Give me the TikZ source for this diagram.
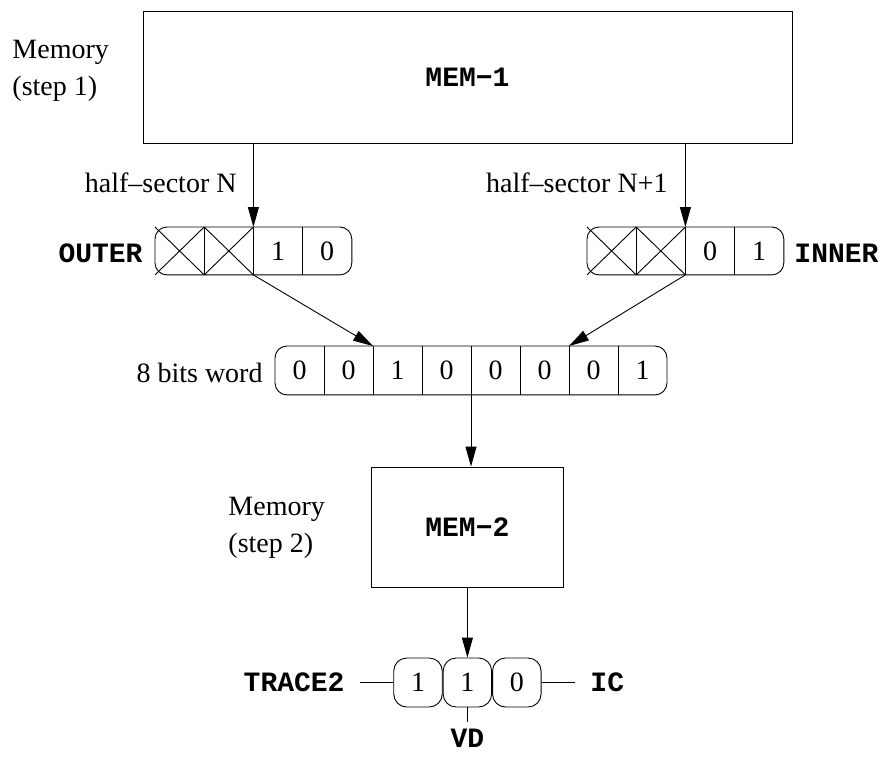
\documentclass[tikz,border=0pt]{standalone}
\usepackage{fontspec}
\setmainfont{Liberation Serif}
\newfontfamily\codefont{Liberation Mono}
\usetikzlibrary{arrows.meta,calc}
\begin{document}
\begin{tikzpicture}[x=1pt,y=-1pt,
  line width=0.9pt,
  every node/.style={font=\fontsize{28}{37}\selectfont},
  txt/.style={inner sep=0pt},
  lbl/.style={font=\fontsize{28}{34}\selectfont\codefont\bfseries, inner sep=0pt},
  cell/.style={minimum width=48.3pt, minimum height=47pt, inner sep=0pt, anchor=north west},
  wcell/.style={minimum width=48.1pt, minimum height=48pt, inner sep=0pt, anchor=north west},
  bit/.style={draw, rounded corners=13pt, minimum width=48.5pt, minimum height=49pt, inner sep=0pt},
  membox/.style={draw, inner sep=0pt},
  arr/.style={-{Triangle[length=20pt,width=11pt]}}]
\useasboundingbox (0,0) rectangle (880,758);

% MEM-1
\node[membox, minimum width=649pt, minimum height=132pt] (mem1) at (467.5,77) {\codefont\bfseries MEM−1};
\node[txt, anchor=north west, align=left] (m1txt) at (12,39.5) {Memory\\(step 1)};

% OUTER register
\node[cell] (o1) at (155,227) {};
\node[cell] (o2) at (o1.north east) {};
\node[cell] (o3) at (o2.north east) {1};
\node[cell] (o4) at (o3.north east) {0};
\draw[rounded corners=12pt] (o1.north west) rectangle (o4.south east);
\foreach \c in {o1,o2,o3} \draw (\c.north east) -- (\c.south east);
\foreach \c in {o1,o2} \draw (\c.north west) -- (\c.south east) (\c.south west) -- (\c.north east);
\node[lbl, anchor=base east] (outer) at (143,262) {OUTER};

% INNER register
\node[cell] (i1) at (587,227) {};
\node[cell] (i2) at (i1.north east) {};
\node[cell] (i3) at (i2.north east) {0};
\node[cell] (i4) at (i3.north east) {1};
\draw[rounded corners=12pt] (i1.north west) rectangle (i4.south east);
\foreach \c in {i1,i2,i3} \draw (\c.north east) -- (\c.south east);
\foreach \c in {i1,i2} \draw (\c.north west) -- (\c.south east) (\c.south west) -- (\c.north east);
\node[lbl, anchor=base west] (inner) at (794,262) {INNER};

% half-sector arrows
\draw[arr] (mem1.south -| o2.north east) -- (o2.north east);
\draw[arr] (mem1.south -| i2.north east) -- (i2.north east);
\node[txt, anchor=base east] (hsN) at (237,192) {half--sector N};
\node[txt, anchor=base east] (hsN1) at (668,192) {half--sector N+1};

% 8 bits word
\node[wcell] (w1) at (275,346) {0};
\node[wcell] (w2) at (w1.north east) {0};
\node[wcell] (w3) at (w2.north east) {1};
\node[wcell] (w4) at (w3.north east) {0};
\node[wcell] (w5) at (w4.north east) {0};
\node[wcell] (w6) at (w5.north east) {0};
\node[wcell] (w7) at (w6.north east) {0};
\node[wcell] (w8) at (w7.north east) {1};
\draw[rounded corners=12pt] (w1.north west) rectangle (w8.south east);
\foreach \c in {w1,w2,w3,w4,w5,w6,w7} \draw (\c.north east) -- (\c.south east);
\node[txt, anchor=base east] (wlbl) at (263,382) {8 bits word};

\draw[arr] (o2.south east) -- (w2.north east);
\draw[arr] (i2.south east) -- (w6.north east);

% MEM-2
\node[membox, minimum width=192pt, minimum height=120pt] (mem2) at (467.4,527) {\codefont\bfseries MEM−2};
\node[txt, anchor=north west, align=left] (m2txt) at (228,496.5) {Memory\\(step 2)};
\draw[arr] (w4.south east) -- (mem2.north -| w4.south east);

% bottom register
\node[bit] (t2) at (467.4,682.5) {1};
\node[bit, anchor=east] (t1) at (t2.west) {1};
\node[bit, anchor=west] (t3) at (t2.east) {0};
\draw[arr] (mem2.south -| t2.north) -- (t2.north);

\node[lbl, anchor=east, inner xsep=15pt] (trace) at (360,682.5) {TRACE2};
\node[lbl, anchor=west, inner xsep=15pt] (ic) at (575,682.5) {IC};
\node[lbl, anchor=north] (vd) at (467.4,729) {VD};
\draw (t2.south) -- (vd.north) [shorten >=7pt];
\draw (t1.west) -- (trace.east);
\draw (t3.east) -- (ic.west);
\end{tikzpicture}
\end{document}
